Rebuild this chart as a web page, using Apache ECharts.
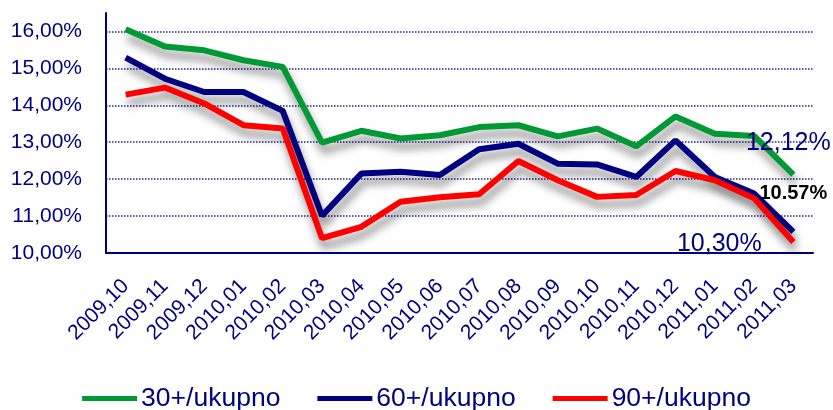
<!DOCTYPE html>
<html>
<head>
<meta charset="utf-8">
<script src="https://cdn.jsdelivr.net/npm/echarts@6/dist/echarts.min.js"></script>
<style>
  html, body { margin: 0; padding: 0; background: #fff; }
  #chart { width: 833px; height: 410px; }
</style>
</head>
<body>
<div id="chart"></div>
<script>
// Months on the horizontal axis
const months = ['2009,10','2009,11','2009,12','2010,01','2010,02','2010,03','2010,04','2010,05','2010,06',
                '2010,07','2010,08','2010,09','2010,10','2010,11','2010,12','2011,01','2011,02','2011,03'];

// Share of overdue loans in the total portfolio (%)
const over30 = [16.06, 15.59, 15.49, 15.22, 15.04, 12.99, 13.31, 13.10, 13.19, 13.41, 13.46, 13.16, 13.37, 12.89, 13.70, 13.23, 13.17, 12.12];
const over60 = [15.29, 14.72, 14.36, 14.36, 13.85, 11.01, 12.15, 12.20, 12.11, 12.81, 12.96, 12.42, 12.40, 12.06, 13.05, 12.06, 11.61, 10.57];
const over90 = [14.29, 14.48, 14.05, 13.46, 13.37, 10.40, 10.71, 11.39, 11.51, 11.59, 12.49, 11.97, 11.52, 11.57, 12.22, 11.97, 11.48, 10.30];

const seriesNames = ['30+/ukupno', '60+/ukupno', '90+/ukupno'];

// Value-axis range and step
const yMin = 10, yMax = 16.5, yStep = 1;

const FONT = '"Liberation Sans", Arial, sans-serif';
const NAVY = '#000080';

const fmtPct = v => v.toFixed(2).replace('.', ',') + '%';
const last = arr => arr[arr.length - 1];

const shadow = { shadowColor: 'rgba(0,0,0,0.45)', shadowBlur: 9, shadowOffsetX: 2, shadowOffsetY: 8 };

function lineSeries(name, values, color, endLabel) {
  return {
    name, type: 'line', showSymbol: false, symbol: 'none',
    color,
    lineStyle: Object.assign({ width: 6, color }, shadow),
    endLabel: Object.assign({ show: true, distance: 0, align: 'center', verticalAlign: 'middle', fontFamily: FONT }, endLabel),
    data: values
  };
}

const chart = echarts.init(document.getElementById('chart'), null, { renderer: 'canvas' });
chart.setOption({
  animation: false,
  textStyle: { fontFamily: FONT },
  grid: { left: 106, right: 20, top: 13, bottom: 157, containLabel: false },
  legend: {
    top: 380,
    left: 'center',
    itemWidth: 55,
    itemHeight: 5,
    itemGap: 37,
    icon: 'rect',
    textStyle: { fontFamily: FONT, fontSize: 26.5, color: NAVY, padding: [0, 0, 0, -1] },
    data: seriesNames
  },
  xAxis: {
    type: 'category',
    data: months,
    boundaryGap: true,
    axisLine: { lineStyle: { color: NAVY, width: 2 } },
    axisTick: { show: false },
    axisLabel: { rotate: 45, margin: 30, fontSize: 21, color: NAVY, fontFamily: FONT, interval: 0 }
  },
  yAxis: {
    type: 'value',
    min: yMin,
    max: yMax,
    interval: yStep,
    axisLine: { show: true, lineStyle: { color: NAVY, width: 2 } },
    axisTick: { show: false },
    axisLabel: { margin: 24, fontSize: 21, color: NAVY, fontFamily: FONT, showMaxLabel: false, formatter: fmtPct },
    splitLine: { show: true, showMaxLine: false, lineStyle: { color: '#23238f', width: 1.5, type: [1.5, 1.5] } }
  },
  series: [
    lineSeries(seriesNames[0], over30, '#009933', {
      formatter: () => fmtPct(last(over30)), offset: [-5, -32], fontSize: 25, color: NAVY
    }),
    lineSeries(seriesNames[1], over60, NAVY, {
      formatter: () => last(over60).toFixed(2) + '%', offset: [0, -38], fontSize: 20, fontWeight: 'bold', color: '#000'
    }),
    lineSeries(seriesNames[2], over90, '#ff0000', {
      formatter: () => fmtPct(last(over90)), offset: [-74, 2], fontSize: 25, color: NAVY
    })
  ]
});
</script>
</body>
</html>
